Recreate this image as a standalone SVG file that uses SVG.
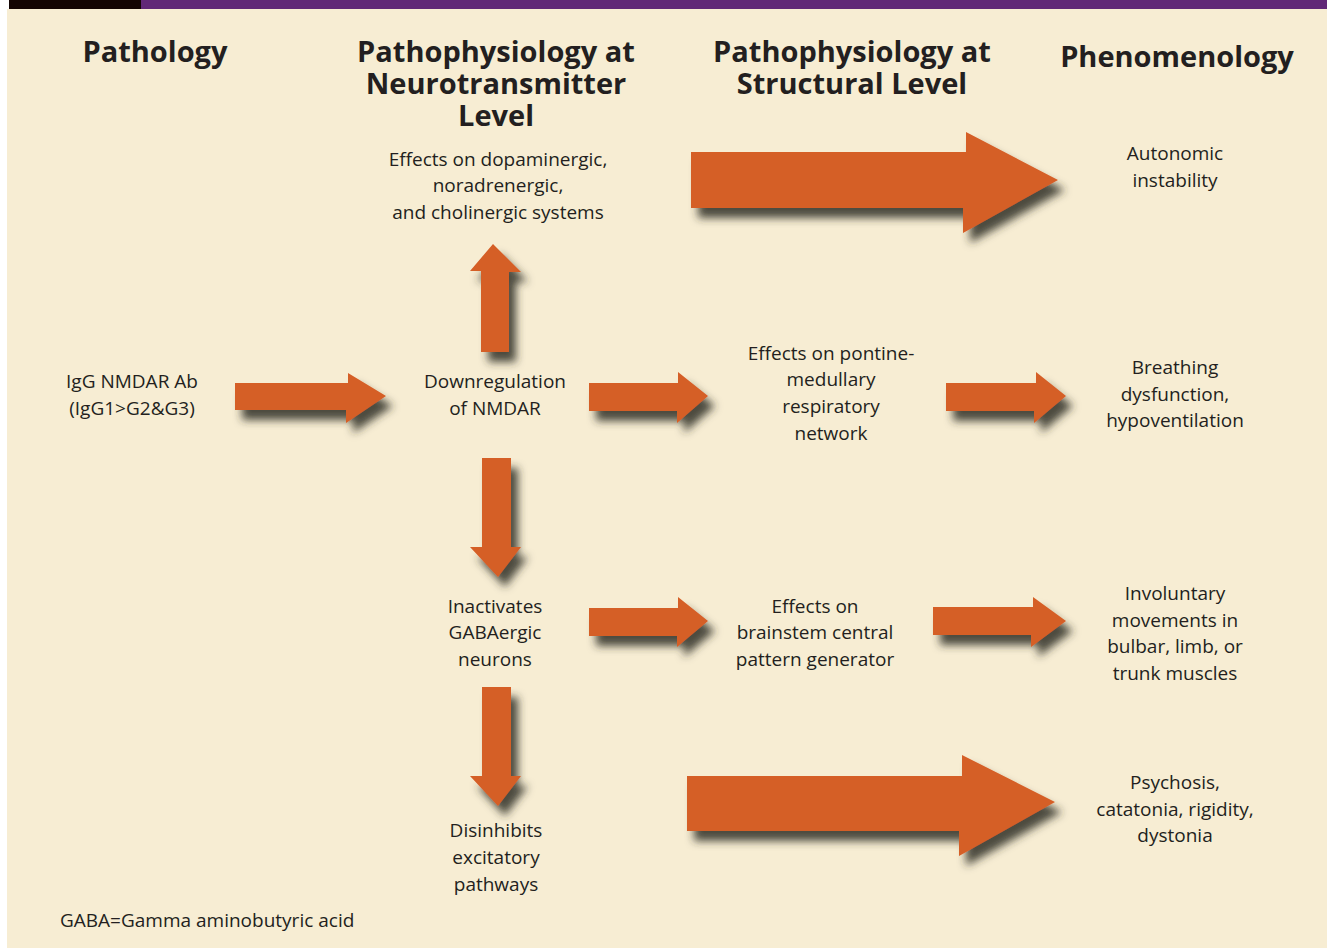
<svg xmlns="http://www.w3.org/2000/svg" width="1327" height="948" viewBox="0 0 1327 948">
<defs>
<filter id="sh" x="-20%" y="-30%" width="150%" height="170%">
<feDropShadow dx="7" dy="10" stdDeviation="4" flood-color="#2f2e28" flood-opacity="0.85"/>
</filter>
<style>
.h{font-family:"Open Sans","Liberation Sans",sans-serif;font-weight:700;font-size:29px;fill:#231f20;text-anchor:middle}
.t{font-family:"Open Sans","Liberation Sans",sans-serif;font-size:19px;fill:#231f20;text-anchor:middle}
.a{fill:#d55e27;filter:url(#sh)}
</style>
</defs>
<rect width="1327" height="948" fill="#ffffff"/>
<rect x="7" y="9" width="1320" height="939" fill="#f7edd3"/>
<rect x="9" y="0" width="132" height="9" fill="#140503"/>
<rect x="141" y="0" width="1186" height="9" fill="#612877"/>

<g id="headers">
<text class="h" x="155" y="62">Pathology</text>
<text class="h" x="496" y="62">Pathophysiology at</text>
<text class="h" x="496" y="94">Neurotransmitter</text>
<text class="h" x="496" y="126">Level</text>
<text class="h" x="852" y="62">Pathophysiology at</text>
<text class="h" x="852" y="94">Structural Level</text>
<text class="h" x="1177" y="67">Phenomenology</text>
</g>

<g id="connectors">
<polygon class="a" points="691,152 966,152 966,132 1058,180 963,233 963,208 691,208"/>
<polygon class="a" points="687,776 962,776 962,755 1055,802 959,856 959,831 687,831"/>
<polygon class="a" points="235,383 348,383 348,373 386,396 346,423 346,410 235,410"/>
<polygon class="a" points="589,383 678,383 678,372 708,396 677,423 677,411 589,411"/>
<polygon class="a" points="946,383 1036,383 1036,372 1066,396 1034,423 1034,411 946,411"/>
<polygon class="a" points="589,608 678,608 678,597 708,621 677,647 677,636 589,636"/>
<polygon class="a" points="933,607 1033,607 1033,597 1066,621 1031,647 1031,635 933,635"/>
<polygon class="a" points="481,352 481,271 470,271 493,244 521,272 509,272 509,352"/>
<polygon class="a" points="482,458 511,458 511,547 521,547 498,577 470,547 482,547"/>
<polygon class="a" points="482,687 511,687 511,776 521,776 498,806 470,776 482,776"/>
</g>

<g id="n-dopa"><text class="t" x="498" y="166">Effects on dopaminergic,</text><text class="t" x="498" y="192">noradrenergic,</text><text class="t" x="498" y="219">and cholinergic systems</text></g>
<g id="n-auto"><text class="t" x="1175" y="160">Autonomic</text><text class="t" x="1175" y="187">instability</text></g>
<g id="n-igg"><text class="t" x="132" y="388">IgG NMDAR Ab</text><text class="t" x="132" y="415">(IgG1&gt;G2&amp;G3)</text></g>
<g id="n-down"><text class="t" x="495" y="388">Downregulation</text><text class="t" x="495" y="415">of NMDAR</text></g>
<g id="n-pont"><text class="t" x="831" y="360">Effects on pontine-</text><text class="t" x="831" y="386">medullary</text><text class="t" x="831" y="413">respiratory</text><text class="t" x="831" y="440">network</text></g>
<g id="n-breath"><text class="t" x="1175" y="374">Breathing</text><text class="t" x="1175" y="401">dysfunction,</text><text class="t" x="1175" y="427">hypoventilation</text></g>
<g id="n-gaba"><text class="t" x="495" y="613">Inactivates</text><text class="t" x="495" y="639">GABAergic</text><text class="t" x="495" y="666">neurons</text></g>
<g id="n-cpg"><text class="t" x="815" y="613">Effects on</text><text class="t" x="815" y="639">brainstem central</text><text class="t" x="815" y="666">pattern generator</text></g>
<g id="n-invol"><text class="t" x="1175" y="600">Involuntary</text><text class="t" x="1175" y="627">movements in</text><text class="t" x="1175" y="653">bulbar, limb, or</text><text class="t" x="1175" y="680">trunk muscles</text></g>
<g id="n-psych"><text class="t" x="1175" y="789">Psychosis,</text><text class="t" x="1175" y="816">catatonia, rigidity,</text><text class="t" x="1175" y="842">dystonia</text></g>
<g id="n-disinh"><text class="t" x="496" y="837">Disinhibits</text><text class="t" x="496" y="864">excitatory</text><text class="t" x="496" y="891">pathways</text></g>
<g id="footnote"><text class="t" x="60" y="927" style="text-anchor:start">GABA=Gamma aminobutyric acid</text></g>
</svg>
